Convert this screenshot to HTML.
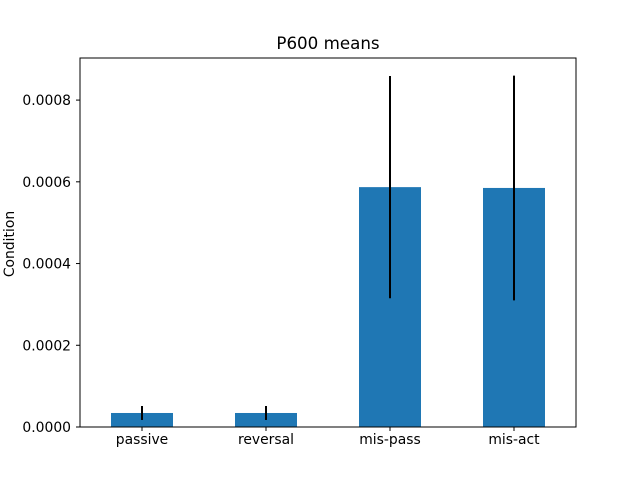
<!DOCTYPE html>
<html><head><meta charset="utf-8"><style>
html,body{margin:0;padding:0;background:#fff;}
svg{display:block;font-family:"DejaVu Sans","Liberation Sans",sans-serif;}
</style></head><body>
<svg id="chart" width="640" height="480" viewBox="0 0 640 480">
<rect x="0" y="0" width="640" height="480" fill="#fff"/>
<text x="328" y="49" text-anchor="middle" font-size="16.7" fill="#000">P600 means</text>
<text transform="translate(14,244) rotate(-90)" text-anchor="middle" font-size="13.9" fill="#000">Condition</text>
<g id="marks"></g>
<rect x="80" y="58" width="496" height="369" fill="none" stroke="#000" stroke-width="1"/>
</svg>
<script>
const categories = ["passive","reversal","mis-pass","mis-act"];
const values = [0.0000343, 0.0000343, 0.000587, 0.000585];
const errors = [0.0000171, 0.0000171, 0.000272, 0.000275];
const yTicks = [0, 0.0002, 0.0004, 0.0006, 0.0008];
const yTickLabels = ["0.0000","0.0002","0.0004","0.0006","0.0008"];

const L=80,R=576,T=58,B=427,yMax=0.000903;
const ns="http://www.w3.org/2000/svg";
const g=document.getElementById('marks');
function y(v){return B-(v/yMax)*(B-T);}
const step=(R-L)/categories.length;
function x(i){return L+step*(i+0.5);}
function mk(t,a){const e=document.createElementNS(ns,t);for(const k in a)e.setAttribute(k,a[k]);g.appendChild(e);return e;}
categories.forEach((c,i)=>{
  const bw=step*0.5;
  const r=mk('rect',{x:x(i)-bw/2,y:y(values[i]),width:bw,height:B-y(values[i]),fill:'#1f77b4'});
  
  
  const e=mk('line',{x1:x(i),x2:x(i),y1:y(values[i]+errors[i]),y2:y(values[i]-errors[i]),stroke:'#000','stroke-width':2});
  
  
  const tk=mk('line',{x1:x(i),x2:x(i),y1:B,y2:B+4,stroke:'#000'});
  
  
  const t=mk('text',{x:x(i),y:B+17,'text-anchor':'middle','font-size':13.9,fill:'#000'});
  t.textContent=c;
  
  
});
yTicks.forEach((v,i)=>{
  const tk=mk('line',{x1:L-4,x2:L,y1:y(v),y2:y(v),stroke:'#000'});
  
  
  const t=mk('text',{x:L-9,y:y(v)+5,'text-anchor':'end','font-size':13.9,fill:'#000'});
  t.textContent=yTickLabels[i];
  
  
});
</script>
</body></html>
